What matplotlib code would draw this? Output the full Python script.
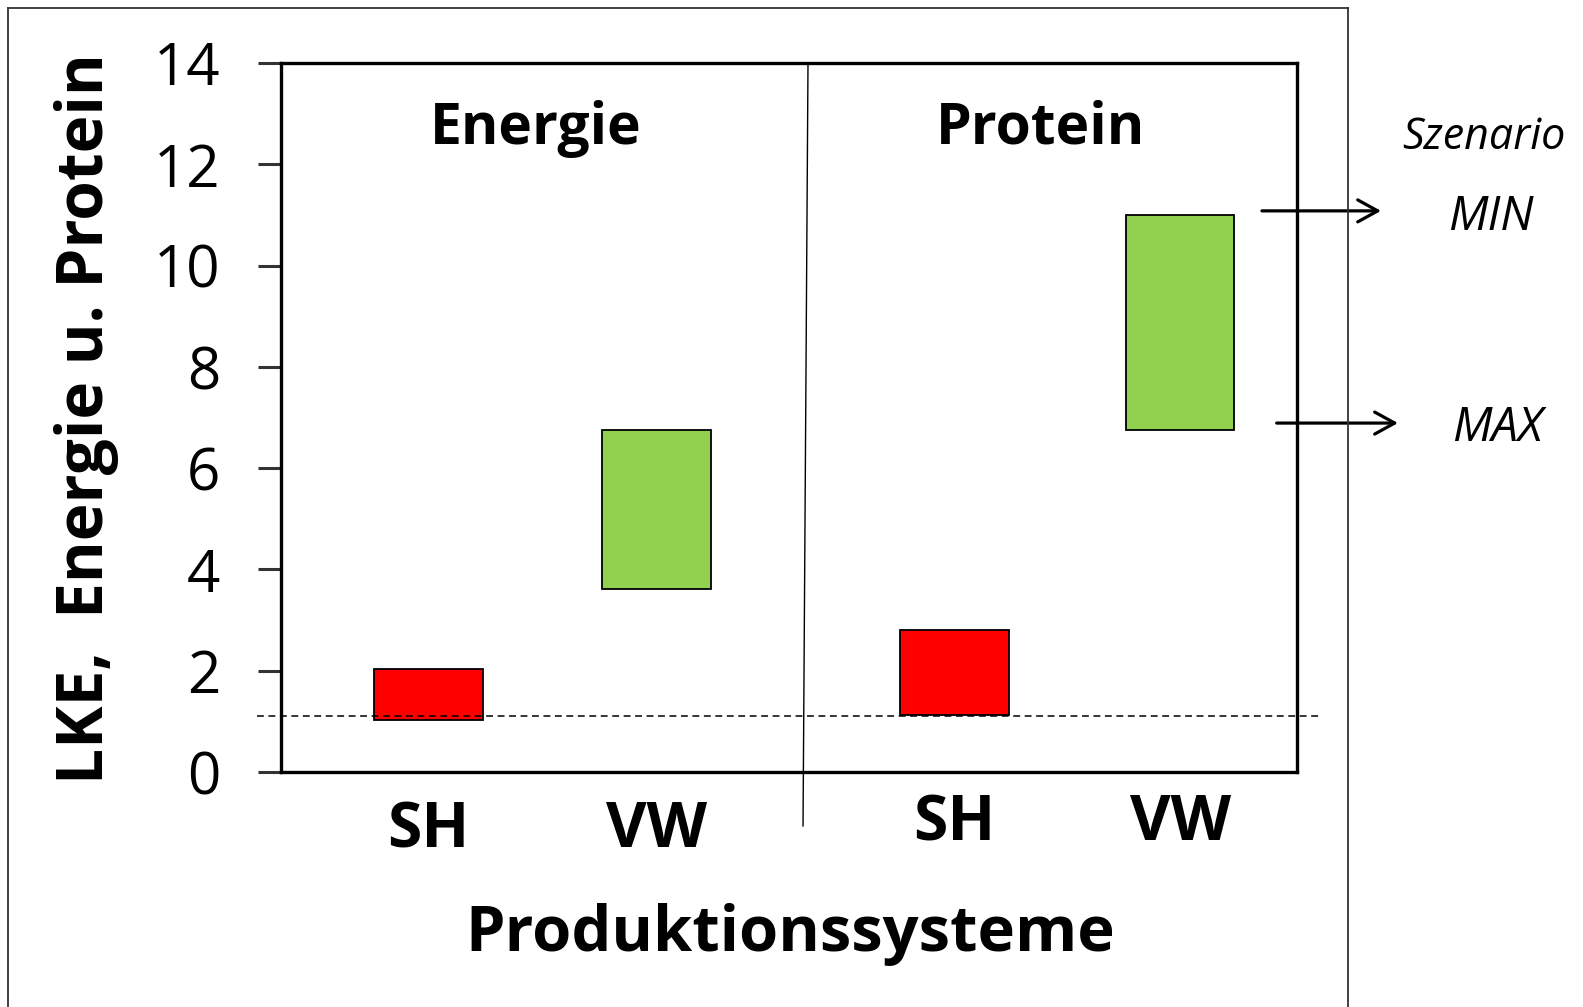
import matplotlib.pyplot as plt
from matplotlib.lines import Line2D
import matplotlib.transforms as mtransforms

plt.rcParams['font.family'] = ['Open Sans', 'DejaVu Sans']

# data
groups = ["Energie", "Protein"]
systems = ["SH", "VW", "SH", "VW"]
low = [1.03, 3.61, 1.13, 6.75]
high = [2.03, 6.75, 2.80, 11.0]
colors = ["#FF0000", "#92D050", "#FF0000", "#92D050"]
baseline = 1.11
yticks = [0, 2, 4, 6, 8, 10, 12, 14]

W, H = 1583, 1007
fig = plt.figure(figsize=(W / 100, H / 100), dpi=100)
ax = fig.add_axes([281 / W, 1 - 772 / H, (1297 - 281) / W, (772 - 63) / H])

pos = [0, 1, 2.31, 3.30]
width = 0.476
ax.bar(pos, [h - l for h, l in zip(high, low)], bottom=low, width=width,
       color=colors, edgecolor="black", linewidth=1.3, zorder=3)

ax.set_xlim(-0.648, 3.813)
ax.set_ylim(0, 14)
ax.set_yticks(yticks)
ax.set_xticks([])
ax.tick_params(axis="y", direction="out", length=16.5, width=2.2, color="#333333",
               labelsize=42, pad=27)
for s in ax.spines.values():
    s.set_linewidth(2.4)

# system labels
tr = mtransforms.blended_transform_factory(ax.transData, ax.transAxes)
ylab_off = [-0.083, -0.083, -0.073, -0.073]
for p, s, yo in zip(pos, systems, ylab_off):
    ax.text(p, yo, s, transform=tr, ha="center", va="center",
            fontsize=45, fontweight="bold")

# group titles
for x, g in zip([0.251, 0.748], groups):
    ax.text(x, 0.907, g, transform=ax.transAxes, ha="center", va="center",
            fontsize=41, fontweight="bold")

# dashed reference line
tr2 = mtransforms.blended_transform_factory(ax.transAxes, ax.transData)
ax.plot([-0.0236, 1.0226], [baseline, baseline], transform=tr2, color="black",
        linestyle=(0, (4.5, 3)), linewidth=1.1, clip_on=False, zorder=4)

# divider
ax.plot([0.5187, 0.5138], [1.0, -0.076], transform=ax.transAxes, color="black",
        linewidth=1.0, clip_on=False)

# scenario arrows
astyle = "->,head_length=0.4,head_width=0.22"
ax.annotate("", xy=(1.0827, 11.08), xytext=(0.9655, 11.08), xycoords=tr2,
            textcoords=tr2, annotation_clip=False,
            arrowprops=dict(arrowstyle=astyle, lw=2.3, mutation_scale=36,
                            color="black", shrinkA=0, shrinkB=0))
ax.annotate("", xy=(1.0994, 6.89), xytext=(0.980, 6.89), xycoords=tr2,
            textcoords=tr2, annotation_clip=False,
            arrowprops=dict(arrowstyle=astyle, lw=2.3, mutation_scale=36,
                            color="black", shrinkA=0, shrinkB=0))

fig.text(1484 / W, 1 - 138 / H, "Szenario", ha="center", va="center",
         fontsize=31, style="italic")
fig.text(1491 / W, 1 - 217 / H, "MIN", ha="center", va="center",
         fontsize=34, style="italic")
fig.text(1497 / W, 1 - 428 / H, "MAX", ha="center", va="center",
         fontsize=34, style="italic")

# axis labels
ax.text(0.501, -0.2285, "Produktionssysteme", transform=ax.transAxes,
        ha="center", va="center", fontsize=45.5, fontweight="bold")
ax.text(-0.191, 0.498, "LKE,  Energie u. Protein", transform=ax.transAxes,
        ha="center", va="center", rotation=90, fontsize=46, fontweight="bold")

# outer frame
fc = "#333333"
fig.add_artist(Line2D([8 / W, 8 / W], [0, 1 - 8 / H], color=fc, lw=1.3))
fig.add_artist(Line2D([8 / W, 1348 / W], [1 - 8 / H, 1 - 8 / H], color=fc, lw=1.3))
fig.add_artist(Line2D([1348 / W, 1348 / W], [0, 1 - 8 / H], color=fc, lw=1.3))

fig.savefig("out.png", dpi=100, facecolor="white")
